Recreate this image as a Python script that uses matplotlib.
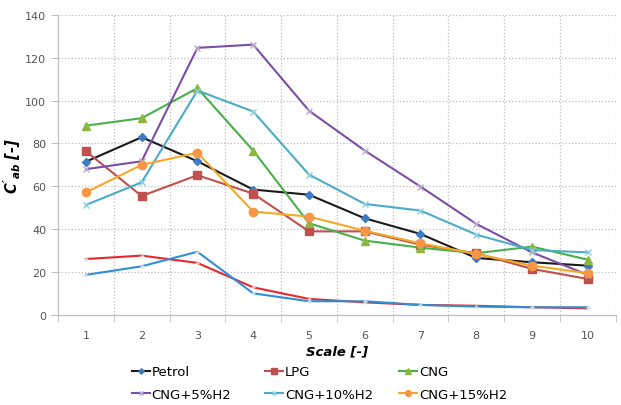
import matplotlib.pyplot as plt
from matplotlib.lines import Line2D

plt.rcParams["mathtext.fontset"] = "custom"
plt.rcParams["mathtext.it"] = "DejaVu Sans:italic:bold"
plt.rcParams["mathtext.rm"] = "DejaVu Sans:italic:bold"

scale = [1, 2, 3, 4, 5, 6, 7, 8, 9, 10]

petrol = [71.5, 82.9, 71.7, 58.5, 56.1, 45.1, 37.8, 26.6, 24.6, 23.0]
lpg = [76.4, 55.5, 65.2, 56.6, 39.0, 39.0, 32.8, 28.8, 21.5, 16.8]
cng = [88.3, 91.8, 105.8, 76.7, 42.8, 34.7, 31.4, 28.8, 31.9, 25.8]
cng_h5 = [68.0, 71.7, 124.6, 126.1, 95.3, 76.7, 59.9, 42.5, 29.2, 18.7]
cng_h10 = [51.3, 61.9, 104.7, 94.9, 65.5, 51.8, 48.7, 37.5, 30.3, 29.2]
cng_h15 = [57.2, 70.0, 75.7, 48.2, 45.9, 39.3, 33.4, 28.5, 23.0, 19.5]
extra_red = [26.1, 27.7, 24.3, 12.9, 7.5, 5.9, 4.7, 4.3, 3.6, 3.1]
extra_blue = [18.7, 22.7, 29.5, 10.1, 6.4, 6.4, 4.7, 3.9, 3.6, 3.6]

fig = plt.figure(figsize=(6.21, 4.06), dpi=100, facecolor="white")
ax = fig.add_axes([0.0934, 0.2217, 0.898, 0.7393])

grid_kw = dict(color="#bdbdbd", linestyle=":", linewidth=0.9)
for y in range(20, 141, 20):
    ax.axhline(y, zorder=0, **grid_kw)
for x in [i + 0.5 for i in range(1, 11)]:
    ax.axvline(x, zorder=0, **grid_kw)

# two unlabelled lines at the bottom
ax.plot(scale, extra_red, color="#e8282b", lw=1.5, marker="+", ms=3,
        mec="#dddddd", zorder=2)
ax.plot(scale, extra_blue, color="#2f8fd6", lw=1.5, marker="+", ms=3,
        mec="#dddddd", zorder=2)

series = [
    ("Petrol", petrol, "#1a1a1a", "D", "#3b7cc4", 4),
    ("LPG", lpg, "#c0504d", "s", "#c0504d", 6),
    ("CNG", cng, "#48b04a", "^", "#8db83f", 6),
    ("CNG+5%H2", cng_h5, "#7b4ea6", "x", "#b8a8cc", 5),
    ("CNG+10%H2", cng_h10, "#4bacc6", "x", "#8ccfe0", 5),
    ("CNG+15%H2", cng_h15, "#f7a823", "o", "#f79646", 6),
]

handles = {}
for name, vals, color, mk, mcolor, ms in series:
    ax.plot(scale, vals, color=color, lw=1.5, marker=mk, ms=ms,
            mfc=mcolor, mec=mcolor, zorder=3)
    handles[name] = Line2D([], [], color=color, lw=1.5, marker=mk, ms=ms * 0.7,
                           mfc=mcolor, mec=mcolor)

ax.set_xlim(0.5, 10.5)
ax.set_ylim(0, 140)
ax.set_xticks(scale)
ax.set_xticks([i + 0.5 for i in range(0, 11)], minor=True)
ax.set_yticks(range(0, 141, 20))
ax.tick_params(axis="x", which="major", length=0, pad=11, labelsize=8,
               labelcolor="#555555")
ax.tick_params(axis="x", which="minor", length=5, color="#bfbfbf")
ax.tick_params(axis="y", length=5, color="#bfbfbf", labelsize=8,
               labelcolor="#555555")

for s in ["top", "right"]:
    ax.spines[s].set_visible(False)
for s in ["left", "bottom"]:
    ax.spines[s].set_color("#bfbfbf")
    ax.spines[s].set_linewidth(0.9)

ax.set_xlabel("Scale [-]", fontsize=9.5, fontweight="bold", style="italic",
              labelpad=3)
ax.set_ylabel(r"$C'_{ab}$ [-]", fontsize=10.5, fontweight="bold",
              style="italic")
ax.yaxis.set_label_coords(-0.063, 0.5)

# one small legend per column, rows read Petrol/LPG/CNG then the H2 blends
columns = [["Petrol", "CNG+5%H2"], ["LPG", "CNG+10%H2"], ["CNG", "CNG+15%H2"]]
col_x = [128, 261, 395]
for names, x0 in zip(columns, col_x):
    fig.legend([handles[n] for n in names], names, frameon=False,
               loc="lower left", bbox_to_anchor=(x0 / 621, 0.0),
               fontsize=9.5, handlelength=1.4, handletextpad=0.1,
               labelspacing=0.75, borderaxespad=0.1, borderpad=0.2)

fig.savefig("out.png", dpi=100)
